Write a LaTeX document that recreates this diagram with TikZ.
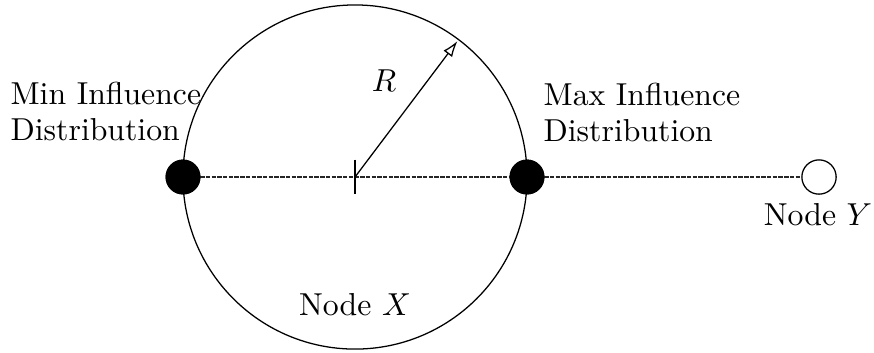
\documentclass[tikz,border=0pt]{standalone}
\usetikzlibrary{arrows.meta}
\begin{document}
\begin{tikzpicture}[x=0.315pt,y=-0.315pt,
  dot/.style={circle,fill=black,inner sep=0pt,minimum size=11pt},
  hollow/.style={circle,draw=black,fill=white,inner sep=0pt,minimum size=10.8pt},
  lbl/.style={inner sep=0pt,font=\fontsize{10}{11.1}\selectfont},
  link/.style={draw=black!85,dash pattern=on 1.4pt off 0.4pt}]
\useasboundingbox (0,0) rectangle (874,352);
\coordinate (C) at (355,177);
\node[circle,draw,inner sep=0pt,minimum size=108.4pt] (X) at (C) {};
\node[dot] (minD) at (183,177) {};
\node[dot] (maxD) at (527,177) {};
\node[hollow] (Y) at (819,177) {};
\draw[link] (minD.center) -- (maxD.center);
\draw[link] (maxD.center) -- (Y.west);
\node[dot] at (minD) {};
\node[dot] at (maxD) {};
\draw ([yshift=5.5pt]C) -- ([yshift=-5.5pt]C);
\coordinate (Rend) at ([shift={(53:53.6pt)}]C);
\draw[-{Latex[open,length=5pt,width=3.4pt]}] (C) -- (Rend);
\node[lbl] (R) at (384,81) {$R$};
\node[lbl,anchor=base west,align=left] (minL) at (10,140) {Min Influence\\Distribution};
\node[lbl,anchor=base west,align=left] (maxL) at (543,141) {Max Influence\\Distribution};
\node[lbl,anchor=base] (XL) at (355,315) {Node $X$};
\node[lbl,anchor=base] (YL) at (818,225) {Node $Y$};
\end{tikzpicture}
\end{document}
